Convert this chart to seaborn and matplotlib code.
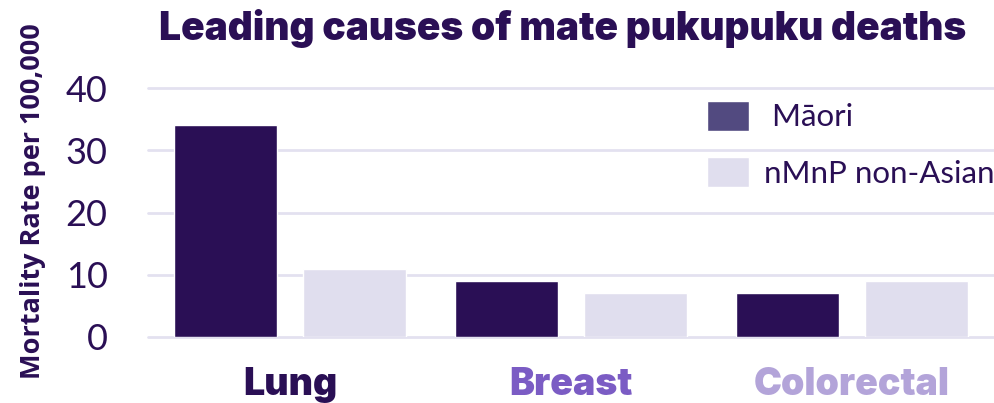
import matplotlib
matplotlib.use("Agg")
import matplotlib.pyplot as plt
from matplotlib.patches import Patch
import seaborn as sns
import pandas as pd

categories = ["Lung", "Breast", "Colorectal"]
groups = [" Māori", "nMnP non-Asian"]
maori = [34, 9, 7]
nmnp = [11, 7, 9]
title = "Leading causes of mate pukupuku deaths"
ylabel = "Mortality Rate per 100,000"
yticks = [0, 10, 20, 30, 40]

DARK = "#2A0F55"
LIGHT = "#E0DEEE"
LEG_DARK = "#524A80"
GRID = "#E3E1F0"
cat_colors = ["#2A0F55", "#7B5CC4", "#B3A4D9"]

df = pd.DataFrame({
    "cause": categories * 2,
    "group": [groups[0]] * 3 + [groups[1]] * 3,
    "rate": maori + nmnp,
})

sns.set_theme(style="white")
plt.rcParams["font.family"] = ["Lato", "DejaVu Sans"]

fig = plt.figure(figsize=(9.95, 4.03), dpi=100)
ax = fig.add_axes([148 / 995, 66 / 403, (995 - 148) / 995, (337 - 88) / 403])

sns.barplot(data=df, x="cause", y="rate", hue="group", order=categories,
            hue_order=groups, palette=[DARK, LIGHT], width=0.918, gap=0.2,
            saturation=1, ax=ax, legend=False, zorder=3)

ax.set_ylim(0, 40)
ax.set_xlim(-0.505, 2.509)
ax.set_yticks(yticks)
for y in yticks:
    ax.axhline(y, color=GRID, lw=2, zorder=1, clip_on=False)
for s in ax.spines.values():
    s.set_visible(False)

ax.tick_params(axis="y", length=0, pad=29, labelsize=26, labelcolor=DARK)
ax.tick_params(axis="x", length=0, pad=21.5)
ax.set_xticks(range(len(categories)))
ax.set_xticklabels(categories)
for lbl, c in zip(ax.get_xticklabels(), cat_colors):
    lbl.set_color(c)
    lbl.set_fontsize(27)
    lbl.set_fontweight("black")
    lbl.set_family(["Inter", "DejaVu Sans"])

ax.set_xlabel("")
ax.set_ylabel(ylabel, fontsize=19.5, fontweight="bold", color=DARK,
              family=["Open Sans", "DejaVu Sans"])
ax.yaxis.set_label_coords(-0.121, 0.544)

handles = [Patch(facecolor=LEG_DARK), Patch(facecolor=LIGHT)]
ax.legend(handles, groups, loc="upper left", bbox_to_anchor=(685 / 995, 1 - 79 / 403),
          bbox_transform=fig.transFigure, frameon=False, fontsize=22.5,
          handlelength=1.34, handleheight=1.09, handletextpad=0.5,
          labelspacing=0.83, labelcolor=DARK, borderpad=0.2)

fig.text(563 / 995, 1 - 28 / 403, title, ha="center", va="center", fontsize=28,
         fontweight="black", color=DARK, family=["Inter", "DejaVu Sans"])

fig.savefig("out.png", dpi=100)
